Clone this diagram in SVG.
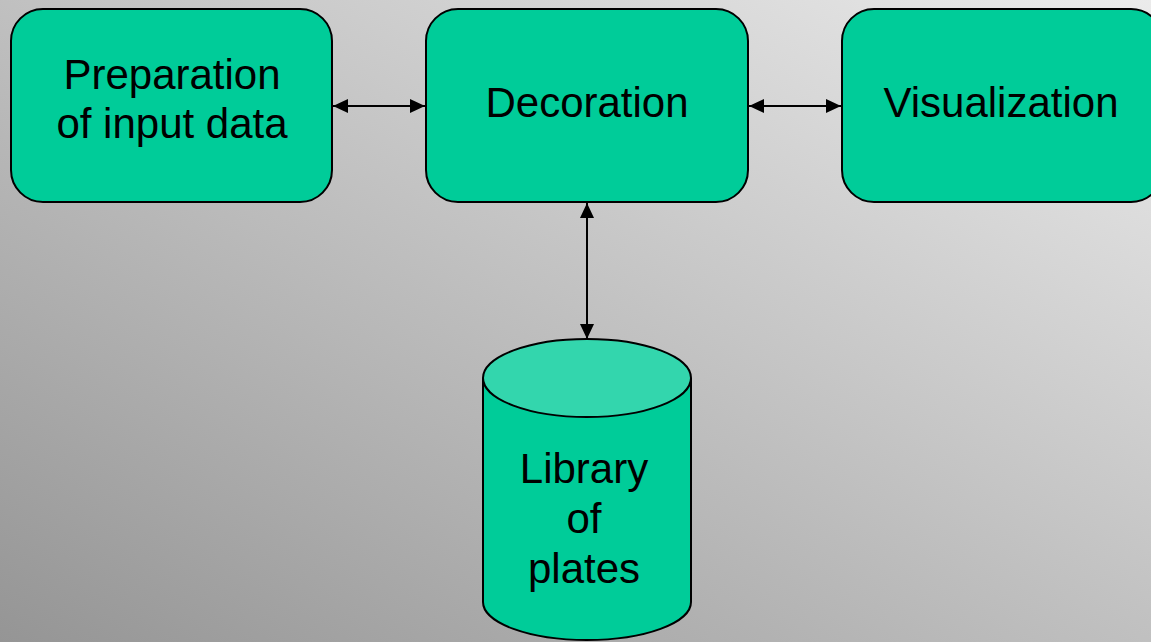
<svg xmlns="http://www.w3.org/2000/svg" width="1151" height="642" viewBox="0 0 1151 642">
<defs>
<linearGradient id="bg" x1="0" y1="1" x2="1" y2="0">
<stop offset="0" stop-color="#959595"/>
<stop offset="1" stop-color="#ebebeb"/>
</linearGradient>
<marker id="ah" viewBox="0 0 15 14" refX="15" refY="7" markerWidth="15" markerHeight="14" markerUnits="userSpaceOnUse" orient="auto-start-reverse">
<path d="M0,0 L15,7 L0,14 Z" fill="#000"/>
</marker>
<style>
.box{fill:#00CC99;stroke:#000;stroke-width:2}
.top{fill:#33D6AD;stroke:#000;stroke-width:2}
.t{font-family:"Liberation Sans",Arial,sans-serif;font-size:42px;fill:#000;text-anchor:middle}
.c{stroke:#000;stroke-width:2;fill:none;marker-start:url(#ah);marker-end:url(#ah)}
</style>
</defs>
<rect width="1151" height="642" fill="url(#bg)"/>
<g id="connectors">
<line class="c" x1="333" y1="106" x2="425" y2="106"/>
<line class="c" x1="749" y1="106" x2="841" y2="106"/>
<line class="c" x1="587" y1="203" x2="587" y2="339"/>
</g>
<g id="prep">
<rect class="box" x="11" y="9" width="321" height="193" rx="32"/>
<text class="t" x="172" y="89">Preparation</text>
<text class="t" x="172" y="138">of input data</text>
</g>
<g id="decoration">
<rect class="box" x="426" y="9" width="322" height="193" rx="32"/>
<text class="t" x="587" y="117">Decoration</text>
</g>
<g id="visualization">
<rect class="box" x="842" y="9" width="321" height="193" rx="32"/>
<text class="t" x="1001" y="117">Visualization</text>
</g>
<g id="library">
<path class="box" d="M483,378 L483,602 A104,38 0 0 0 691,602 L691,378"/>
<ellipse class="top" cx="587" cy="378" rx="104" ry="39"/>
<text class="t" x="584" y="483">Library</text>
<text class="t" x="584" y="533">of</text>
<text class="t" x="584" y="583">plates</text>
</g>
</svg>
